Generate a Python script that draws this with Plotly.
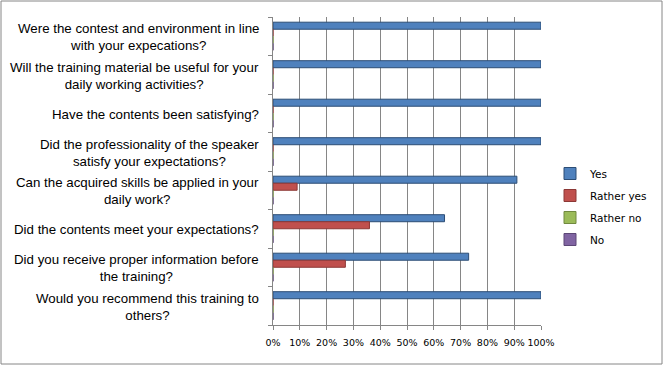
import plotly.graph_objects as go

questions = [
    "Were the contest and environment in line<br>with your expecations?",
    "Will the training material be useful for your<br>daily working activities?",
    "Have the contents been satisfying?",
    "Did the professionality of the speaker<br>satisfy your expectations?",
    "Can the acquired skills be applied in your<br>daily work?",
    "Did the contents meet your expectations?",
    "Did you receive proper information before<br>the training?",
    "Would you recommend this training to<br>others?",
]
yes_vals = [100, 100, 100, 100, 91, 64, 73, 100]
rather_yes_vals = [0, 0, 0, 0, 9, 36, 27, 0]
rather_no_vals = [0, 0, 0, 0, 0, 0, 0, 0]
no_vals = [0, 0, 0, 0, 0, 0, 0, 0]
series_names = ["Yes", "Rather yes", "Rather no", "No"]
series_colors = ["#4F81BD", "#C0504D", "#9BBB59", "#8064A2"]
series_lines = ["#2C4D75", "#8C3836", "#71893F", "#5C4776"]
x_ticks = [0, 10, 20, 30, 40, 50, 60, 70, 80, 90, 100]
x_tick_labels = [f"{v}%" for v in x_ticks]

W, H = 664, 366
L, R, T, B = 273, 541, 17, 325

fig = go.Figure()
for i, (name, vals) in enumerate(zip(series_names, [yes_vals, rather_yes_vals, rather_no_vals, no_vals])):
    fig.add_trace(go.Bar(
        y=list(range(len(questions))), x=vals, name=name, orientation="h",
        marker=dict(color=series_colors[i], line=dict(color=series_lines[i], width=1)),
        legendgroup=name,
    ))

for i, q in enumerate(questions):
    fig.add_annotation(
        x=0, y=i, xref="paper", yref="y", text=q, showarrow=False,
        xanchor="right", yanchor="middle", align="center", xshift=-12, yshift=-1,
        font=dict(family="Liberation Sans, Arial", size=13.3, color="#000000"),
    )

pw = R - L
def px(xp):
    return (xp - L) / pw
ph = B - T
def py(yp):
    return 1 - (yp - T) / ph

fig.add_shape(type="rect", xref="paper", yref="paper",
              x0=px(1), x1=px(662), y0=py(1), y1=py(364),
              line=dict(color="#868686", width=1), fillcolor="rgba(0,0,0,0)", layer="below")

fig.update_layout(
    width=W, height=H,
    margin=dict(l=L, r=W - R, t=T, b=H - B, pad=0),
    paper_bgcolor="white", plot_bgcolor="white",
    barmode="group", bargap=0.27, bargroupgap=0,
    showlegend=True,
    legend=dict(x=550 / W, y=1 - 159 / H, xref="container", yref="container",
                xanchor="left", yanchor="top",
                font=dict(family="DejaVu Sans", size=10.5, color="#000000"),
                traceorder="grouped", tracegroupgap=3, itemwidth=30,
                bgcolor="rgba(0,0,0,0)"),
    xaxis=dict(range=[0, 100], tickvals=x_ticks, ticktext=x_tick_labels, tickangle=0,
               showgrid=True, gridcolor="#868686", gridwidth=1,
               showline=True, linecolor="#868686", linewidth=1,
               ticks="outside", ticklen=4, tickcolor="#868686", ticklabelstandoff=5,
               tickfont=dict(family="DejaVu Sans", size=9.5, color="#000000"),
               zeroline=False, fixedrange=True, automargin=False),
    yaxis=dict(range=[len(questions) - 0.5, -0.5], tickvals=[i + 0.5 for i in range(-1, len(questions))],
               showticklabels=False, showgrid=False,
               showline=True, linecolor="#868686", linewidth=1,
               ticks="outside", ticklen=4, tickcolor="#868686",
               zeroline=False, fixedrange=True, automargin=False),
)

fig.write_html("out.html", config={"displayModeBar": False},
               post_script="document.body.style.margin='0';")
